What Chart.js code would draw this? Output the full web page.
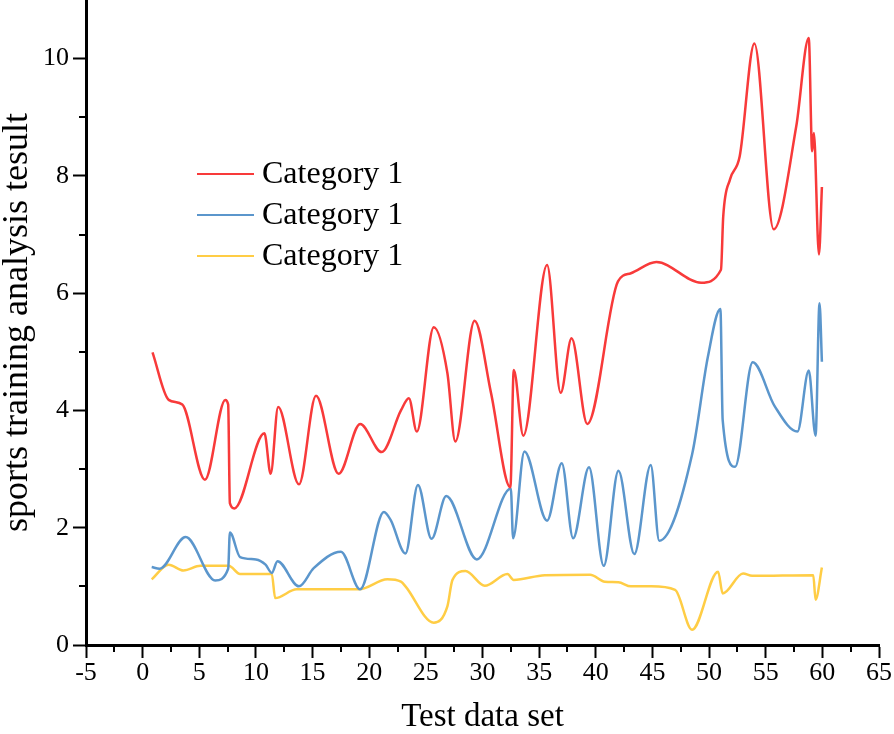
<!DOCTYPE html>
<html>
<head>
<meta charset="utf-8">
<script src="https://cdn.jsdelivr.net/npm/chart.js@4/dist/chart.umd.min.js"></script>
<style>
    html, body { margin: 0; padding: 0; background: #fff; }
    #wrap { width: 894px; height: 734px; }
</style>
</head>
<body>
<div id="wrap"><canvas id="trainingChart" width="894" height="734"></canvas></div>
<script>
// values (x = test data set, y = analysis result)
const redX = [0.87, 2.3, 3.5, 5.5, 7.3, 7.55, 7.7, 8.1, 10.75, 11.3, 11.96, 13.8, 15.3, 17.3, 19.2, 21.1, 22.8, 23.5, 24.2, 25.7, 26.9, 27.6, 29.3, 30.75, 32.46, 32.76, 33.6, 35.7, 36.9, 37.86, 39.25, 41.96, 43.1, 45.35, 49.3, 51.05, 51.25, 51.85, 52.7, 54.0, 55.7, 57.7, 58.8, 59.1, 59.25, 59.7, 59.96];
const redY = [4.99, 4.18, 4.1, 2.82, 4.18, 4.1, 2.42, 2.33, 3.61, 2.92, 4.06, 2.74, 4.25, 2.92, 3.77, 3.29, 4.0, 4.21, 3.64, 5.42, 4.64, 3.47, 5.53, 4.3, 2.69, 4.69, 3.57, 6.48, 4.3, 5.23, 3.77, 6.2, 6.34, 6.53, 6.18, 6.4, 7.31, 7.94, 8.33, 10.26, 7.09, 8.85, 10.35, 8.42, 8.73, 6.66, 7.81];

const blueX = [0.8, 1.5, 3.8, 6.4, 7.55, 7.7, 8.6, 10.0, 10.85, 11.4, 11.9, 13.8, 15.1, 17.5, 19.2, 21.3, 21.9, 23.2, 24.3, 25.5, 26.8, 29.5, 32.5, 32.7, 33.7, 35.7, 37.0, 38.0, 39.4, 40.7, 42.0, 43.4, 44.85, 45.6, 48.5, 49.9, 51.0, 51.2, 52.3, 53.85, 55.8, 57.8, 58.8, 59.4, 59.75, 59.96];
const blueY = [1.33, 1.3, 1.84, 1.1, 1.3, 1.92, 1.5, 1.46, 1.37, 1.23, 1.43, 1.0, 1.31, 1.59, 0.95, 2.27, 2.13, 1.56, 2.73, 1.81, 2.54, 1.46, 2.67, 1.82, 3.3, 2.12, 3.1, 1.82, 3.03, 1.35, 2.97, 1.55, 3.07, 1.78, 3.25, 4.92, 5.73, 3.84, 3.04, 4.82, 4.07, 3.64, 4.68, 3.57, 5.83, 4.83];

const yellowX = [0.8, 2.3, 3.6, 5.1, 7.6, 8.6, 11.4, 11.7, 13.6, 19.1, 21.6, 22.8, 23.2, 25.7, 26.9, 27.35, 28.5, 30.2, 32.2, 32.75, 35.5, 39.5, 40.8, 42.0, 43.1, 44.9, 47.0, 48.5, 50.8, 51.2, 53.0, 53.8, 59.2, 59.4, 59.96];
const yellowY = [1.12, 1.37, 1.27, 1.35, 1.35, 1.21, 1.21, 0.8, 0.95, 0.95, 1.12, 1.08, 1.0, 0.38, 0.66, 1.11, 1.26, 1.01, 1.21, 1.11, 1.19, 1.2, 1.08, 1.07, 1.0, 1.0, 0.94, 0.26, 1.25, 0.88, 1.22, 1.18, 1.19, 0.77, 1.32];

const seriesNames = ['Category 1', 'Category 1', 'Category 1'];
const xTicks = [-5, 0, 5, 10, 15, 20, 25, 30, 35, 40, 45, 50, 55, 60, 65];
const xMinorTicks = [-2.5, 2.5, 7.5, 12.5, 17.5, 22.5, 27.5, 32.5, 37.5, 42.5, 47.5, 52.5, 57.5, 62.5];
const yTicks = [0, 2, 4, 6, 8, 10];
const yMinorTicks = [1, 3, 5, 7, 9];

const serif = "'Liberation Serif', 'Times New Roman', serif";

function toPoints(xs, ys) {
    return xs.map((x, i) => ({ x: x, y: ys[i] }));
}

// minor ticks + legend inside the plot
const extras = {
    id: 'extras',
    afterDraw(chart) {
        const ctx = chart.ctx;
        const xs = chart.scales.x;
        const ys = chart.scales.y;
        ctx.save();
        ctx.strokeStyle = '#000';
        ctx.lineWidth = 2;
        ctx.beginPath();
        xMinorTicks.forEach(v => {
            const px = Math.round(xs.getPixelForValue(v));
            ctx.moveTo(px, xs.top);
            ctx.lineTo(px, xs.top + 7);
        });
        yMinorTicks.forEach(v => {
            const py = Math.round(ys.getPixelForValue(v));
            ctx.moveTo(ys.right, py);
            ctx.lineTo(ys.right - 7, py);
        });
        ctx.stroke();

        // legend
        ctx.font = '32px ' + serif;
        ctx.textBaseline = 'middle';
        ctx.fillStyle = '#000';
        chart.data.datasets.forEach((ds, i) => {
            const y = 174 + i * 41;
            ctx.strokeStyle = ds.borderColor;
            ctx.lineWidth = 2;
            ctx.beginPath();
            ctx.moveTo(197, y);
            ctx.lineTo(254, y);
            ctx.stroke();
            ctx.fillText(ds.label, 262, y + 1);
        });
        ctx.restore();
    }
};

const ctx = document.getElementById('trainingChart').getContext('2d');
const trainingChart = new Chart(ctx, {
    type: 'line',
    data: {
        datasets: [{
            label: seriesNames[0],
            data: toPoints(redX, redY),
            borderColor: '#F83A3A',
            borderWidth: 2.5,
            pointRadius: 0,
            cubicInterpolationMode: 'monotone'
        }, {
            label: seriesNames[1],
            data: toPoints(blueX, blueY),
            borderColor: '#5B96CC',
            borderWidth: 2.5,
            pointRadius: 0,
            cubicInterpolationMode: 'monotone'
        }, {
            label: seriesNames[2],
            data: toPoints(yellowX, yellowY),
            borderColor: '#FFCD45',
            borderWidth: 2.5,
            pointRadius: 0,
            cubicInterpolationMode: 'monotone'
        }]
    },
    options: {
        responsive: false,
        animation: false,
        layout: { padding: { top: 0, right: 15, bottom: 0, left: 0 } },
        plugins: {
            legend: { display: false },
            tooltip: { enabled: false }
        },
        scales: {
            x: {
                type: 'linear',
                min: -5,
                max: 65,
                afterBuildTicks: (scale) => { scale.ticks = xTicks.map(v => ({ value: v })); },
                afterFit: (scale) => {
                    scale.height = 89;
                    scale.paddingLeft = 0;
                    scale.paddingRight = 0;
                },
                ticks: {
                    color: '#000',
                    font: { family: serif, size: 26 },
                    padding: 0,
                    maxRotation: 0,
                    autoSkip: false
                },
                grid: {
                    drawOnChartArea: false,
                    drawTicks: true,
                    tickLength: 13,
                    tickWidth: 2,
                    tickColor: '#000'
                },
                border: { display: true, color: '#000', width: 3 },
                title: {
                    display: true,
                    text: 'Test data set',
                    color: '#000',
                    font: { family: serif, size: 33, lineHeight: 1 },
                    padding: { top: 0, bottom: 0 }
                }
            },
            y: {
                type: 'linear',
                min: 0,
                max: 11,
                afterBuildTicks: (scale) => { scale.ticks = yTicks.map(v => ({ value: v })); },
                afterFit: (scale) => {
                    scale.width = 86;
                    scale.paddingTop = 0;
                    scale.paddingBottom = 0;
                },
                ticks: {
                    color: '#000',
                    font: { family: serif, size: 26 },
                    padding: 4,
                    autoSkip: false
                },
                grid: {
                    drawOnChartArea: false,
                    drawTicks: true,
                    tickLength: 13,
                    tickWidth: 2,
                    tickColor: '#000'
                },
                border: { display: true, color: '#000', width: 3 },
                title: {
                    display: true,
                    text: 'sports training analysis tesult',
                    color: '#000',
                    font: { family: serif, size: 36, lineHeight: 1 },
                    padding: { top: 0, bottom: 0 }
                }
            }
        }
    },
    plugins: [extras]
});
</script>
</body>
</html>
